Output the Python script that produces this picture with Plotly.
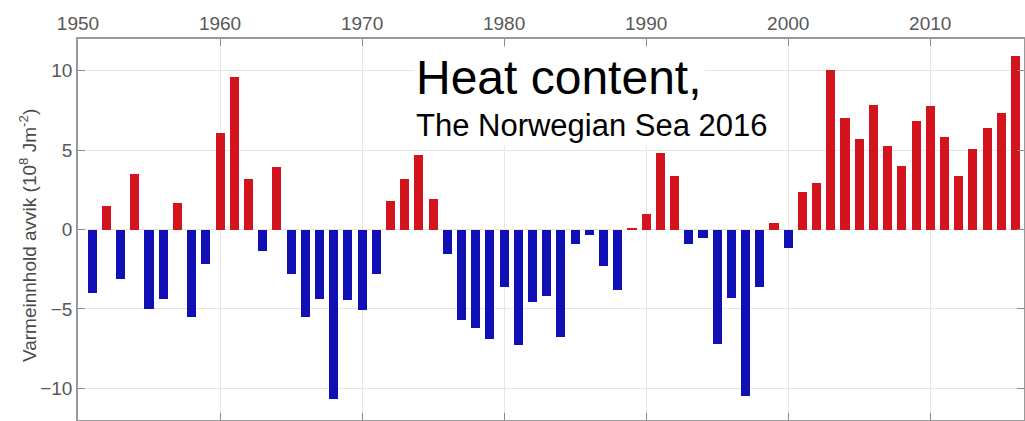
import plotly.graph_objects as go

years = list(range(1951, 2017))
values = [
    -4.0, 1.5, -3.1, 3.5, -5.0, -4.4, 1.7, -5.5, -2.2, 6.1,   # 1951-1960
    9.6, 3.2, -1.35, 3.95, -2.8, -5.5, -4.4, -10.7, -4.45, -5.1,  # 1961-1970
    -2.8, 1.8, 3.2, 4.7, 1.9, -1.55, -5.7, -6.2, -6.9, -3.65,  # 1971-1980
    -7.3, -4.55, -4.2, -6.8, -0.9, -0.35, -2.3, -3.8, 0.12, 0.95,  # 1981-1990
    4.85, 3.35, -0.9, -0.55, -7.2, -4.3, -10.5, -3.65, 0.38, -1.15,  # 1991-2000
    2.35, 2.9, 10.05, 7.05, 5.7, 7.85, 5.25, 4.0, 6.85, 7.8,  # 2001-2010
    5.85, 3.35, 5.1, 6.4, 7.35, 10.95,  # 2011-2016
]
x_ticks = [1950, 1960, 1970, 1980, 1990, 2000, 2010]
y_ticks = [-10, -5, 0, 5, 10]

RED = "#d3141c"
BLUE = "#1010b4"
colors = [RED if v >= 0 else BLUE for v in values]

FONT = "Liberation Sans, Arial, sans-serif"

fig = go.Figure(go.Bar(x=years, y=values, marker=dict(color=colors, line=dict(width=0)),
                       width=0.64, hoverinfo="x+y"))

axis_common = dict(
    showline=True, linecolor="#9a9a9a", linewidth=1.5, mirror="allticks",
    ticks="inside", ticklen=7, tickcolor="#8a8a8a", tickwidth=1,
    showgrid=True, gridcolor="#e6e6e6", gridwidth=1, zeroline=False,
    tickfont=dict(family=FONT, size=19, color="#585858"),
    automargin=False,
)

fig.update_xaxes(range=[1950, 2016.6], tickvals=x_ticks, side="top", **axis_common)
fig.update_yaxes(range=[-12, 12], tickvals=y_ticks, ticksuffix=" ", **axis_common)

fig.add_annotation(
    xref="paper", yref="paper", x=-0.053, y=0.485, xanchor="center", yanchor="middle",
    text="Varmeinnhold avvik (10<sup>8</sup> Jm<sup>-2</sup>)", textangle=-90, showarrow=False,
    font=dict(family=FONT, size=19, color="#4a4a4a"),
)
fig.add_annotation(
    xref="paper", yref="paper", x=0.354, y=0.898, xanchor="left", yanchor="middle",
    text="Heat content,", align="left", showarrow=False, bgcolor="white", borderpad=2,
    font=dict(family=FONT, size=48, color="black"),
)
fig.add_annotation(
    xref="paper", yref="paper", x=0.354, y=0.772, xanchor="left", yanchor="middle",
    text="The Norwegian Sea 2016", align="left", showarrow=False, bgcolor="white", borderpad=2,
    font=dict(family=FONT, size=31, color="black"),
)

fig.update_layout(
    width=1025, height=421,
    margin=dict(l=78, r=1, t=39, b=1),
    plot_bgcolor="white", paper_bgcolor="white",
    showlegend=False, bargap=0,
)

fig.write_html("out.html", config={"displayModeBar": False},
               post_script="document.body.style.margin='0';")
